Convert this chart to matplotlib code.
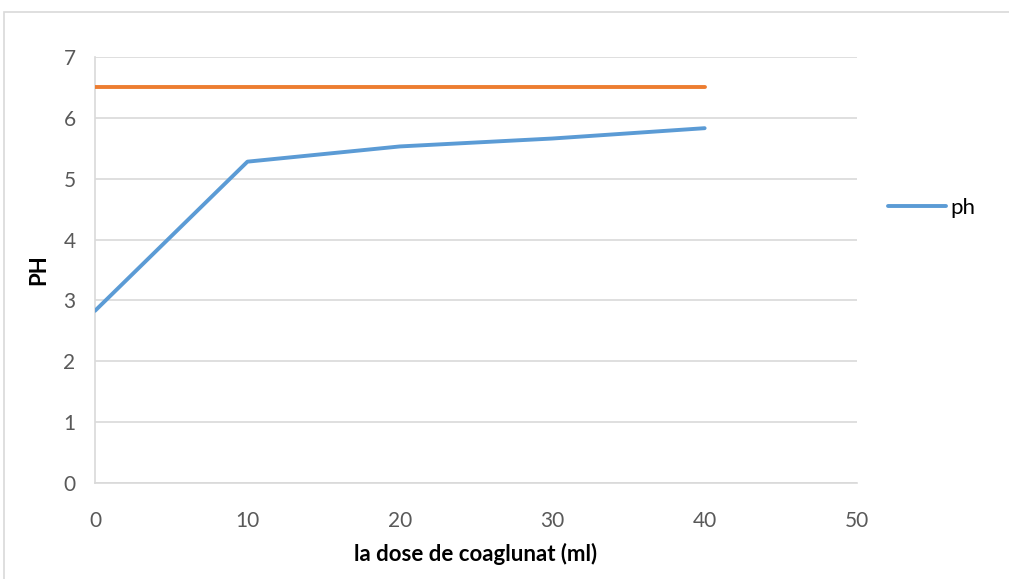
import matplotlib.pyplot as plt
from matplotlib.patches import Rectangle

# dose de coagulant (ml) et pH mesuré
dose = [0, 10, 20, 30, 40]
ph = [2.83, 5.28, 5.53, 5.66, 5.83]
# seuil de référence
seuil = [6.5, 6.5, 6.5, 6.5, 6.5]

plt.rcParams['font.family'] = ['Lato', 'DejaVu Sans']

fig = plt.figure(figsize=(10.09, 5.79), dpi=100)
ax = fig.add_axes([0.0942, 0.1658, 0.7552, 0.7358])

grid_col = '#d9d9d9'
ax.plot(dose, seuil, color='#ed7d31', lw=2.8, solid_capstyle='round', zorder=3)
ax.plot(dose, ph, color='#5b9bd5', lw=2.8, solid_capstyle='round', label='ph', zorder=3)

ax.set_xlim(0, 50)
ax.set_ylim(0, 7)
ax.set_xticks(range(0, 51, 10))
ax.set_yticks(range(0, 8))
ax.grid(axis='y', color=grid_col, lw=1.2)
ax.set_axisbelow(True)
for s in ['top', 'right']:
    ax.spines[s].set_visible(False)
for s in ['left', 'bottom']:
    ax.spines[s].set_color(grid_col)
    ax.spines[s].set_linewidth(1.2)
ax.tick_params(length=0, labelsize=15, colors='#595959')
ax.tick_params(axis='x', pad=20)
ax.tick_params(axis='y', pad=14)

ax.set_xlabel('la dose de coaglunat (ml)', fontsize=16, fontweight='bold', labelpad=9)
ax.set_ylabel('PH', fontsize=16, fontweight='bold', labelpad=10)

ax.legend(loc='center left', bbox_to_anchor=(1.015, 0.645), frameon=False,
          fontsize=16, handlelength=2.6, handletextpad=0.2)

# cadre de la zone de graphique
fig.patches.append(Rectangle((4 / 1009, -0.1), 1.2, 1 - 12 / 579 + 0.1,
                             transform=fig.transFigure, fill=False,
                             edgecolor=grid_col, lw=1.2))

fig.savefig('out.png', dpi=100)
